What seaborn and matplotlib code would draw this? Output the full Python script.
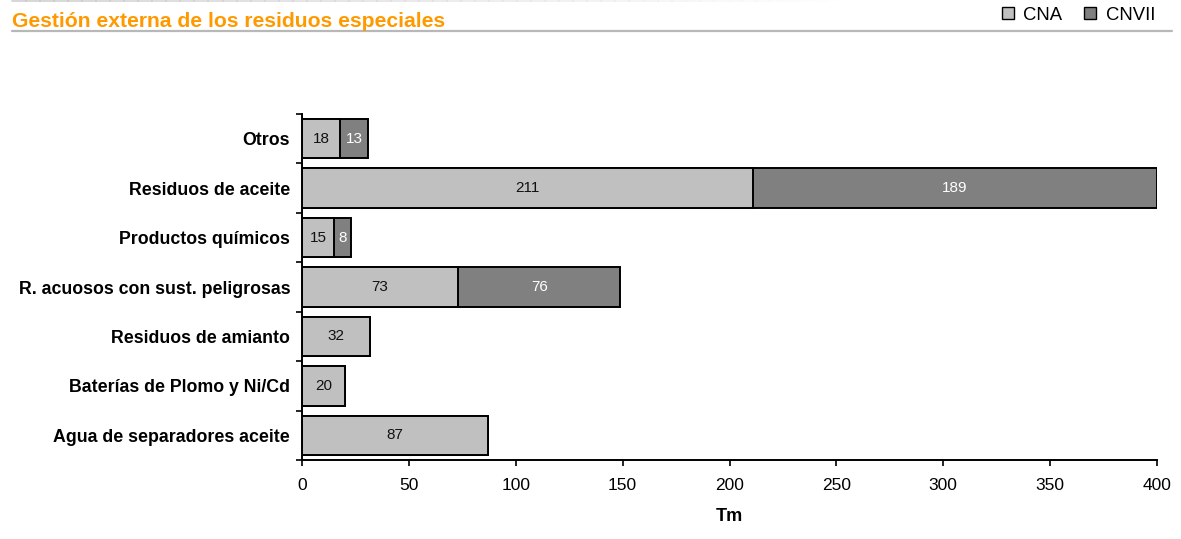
import matplotlib
matplotlib.use("Agg")
import matplotlib.pyplot as plt
from matplotlib.patches import Patch
from matplotlib.lines import Line2D
import numpy as np
import pandas as pd
import seaborn as sns

categories = [
    "Otros",
    "Residuos de aceite",
    "Productos químicos",
    "R. acuosos con sust. peligrosas",
    "Residuos de amianto",
    "Baterías de Plomo y Ni/Cd",
    "Agua de separadores aceite",
]
cna = [18, 211, 15, 73, 32, 20, 87]
cnvii = [13, 189, 8, 76, 0, 0, 0]
x_ticks = [0, 50, 100, 150, 200, 250, 300, 350, 400]

LIGHT = "#C0C0C0"
DARK = "#808080"

sns.set_theme(style="white")
plt.rcParams["font.family"] = ["Liberation Sans", "DejaVu Sans"]
for key in ("text.color", "axes.labelcolor", "xtick.color", "ytick.color"):
    plt.rcParams[key] = "black"

df = pd.DataFrame({"cat": categories, "CNA": cna, "CNVII": cnvii})
df["total"] = df["CNA"] + df["CNVII"]

W, H = 1181, 539
fig = plt.figure(figsize=(W / 100, H / 100), dpi=100)
ax = fig.add_axes([302 / W, 1 - 460 / H, (1157 - 302) / W, (460 - 114) / H])

# stacked bars: full total in dark grey, CNA drawn over it in light grey
sns.barplot(data=df, y="cat", x="total", orient="h", color=DARK, saturation=1,
            width=0.8, edgecolor="black", linewidth=1.4, ax=ax)
sns.barplot(data=df, y="cat", x="CNA", orient="h", color=LIGHT, saturation=1,
            width=0.8, edgecolor="black", linewidth=1.4, ax=ax)

# value labels inside each segment
for i, row in df.iterrows():
    ax.text(row["CNA"] / 2, i, f"{row['CNA']:g}", ha="center", va="center",
            fontsize=11, color="#111111")
    if row["CNVII"] > 0:
        ax.text(row["CNA"] + row["CNVII"] / 2, i, f"{row['CNVII']:g}",
                ha="center", va="center", fontsize=11, color="white")

ax.set_xlim(0, 400)
ax.set_ylim(len(categories) - 0.5, -0.5)
ax.set_xticks(x_ticks)
ax.set_xticklabels([str(t) for t in x_ticks], fontsize=12.5)
ax.set_xlabel("Tm", fontsize=13, fontweight="bold", labelpad=11)
ax.set_ylabel("")
ax.set_yticks(range(len(categories)))
ax.set_yticklabels(categories, fontsize=12.8, fontweight="bold")
ax.tick_params(axis="y", which="major", length=0, pad=8.5)
ax.set_yticks(np.arange(-0.5, len(categories), 1.0), minor=True)
ax.tick_params(axis="y", which="minor", length=4, width=1.2, direction="out",
               color="black", left=True)
ax.tick_params(axis="x", which="major", length=4, width=1.2, direction="out",
               color="black", bottom=True, pad=9)

for side in ("top", "right"):
    ax.spines[side].set_visible(False)
for side in ("left", "bottom"):
    ax.spines[side].set_color("black")
    ax.spines[side].set_linewidth(1.4)

# header
fig.text(12 / W, 1 - 27 / H, "Gestión externa de los residuos especiales",
         color="#FF9900", fontsize=15.2, fontweight="bold", va="baseline", ha="left")
fig.add_artist(Line2D([12 / W, 1172 / W], [1 - 31 / H, 1 - 31 / H],
                      color="#B8B8B8", linewidth=1.6, transform=fig.transFigure))
# faded top rule
xs = np.linspace(12, 840, 60)
for k, (a, b) in enumerate(zip(xs[:-1], xs[1:])):
    alpha = 0.6 * (1 - k / (len(xs) - 1))
    fig.add_artist(Line2D([a / W, b / W], [1 - 1 / H, 1 - 1 / H],
                          color="#B0B0B0", linewidth=1.2, alpha=alpha,
                          transform=fig.transFigure))

handles = [Patch(facecolor=LIGHT, edgecolor="black", linewidth=1.0, label="CNA"),
           Patch(facecolor=DARK, edgecolor="black", linewidth=1.0, label="CNVII")]
fig.legend(handles=handles, loc="center right", bbox_to_anchor=(1155 / W, 1 - 15 / H),
           ncol=2, frameon=False, fontsize=13.3, handlelength=0.65, handleheight=0.65,
           handletextpad=0.5, columnspacing=1.2, borderaxespad=0, borderpad=0)

fig.savefig("out.png", dpi=100, facecolor="white")
